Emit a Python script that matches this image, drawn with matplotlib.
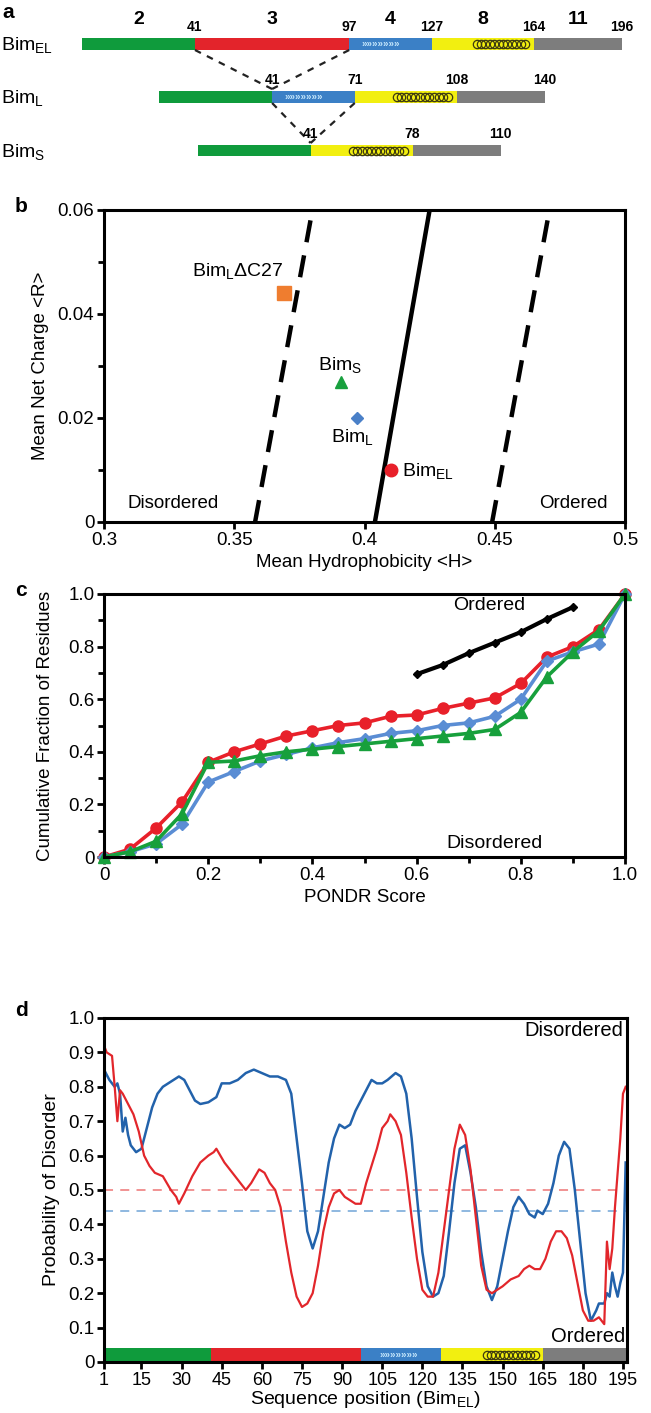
import numpy as np
import matplotlib.pyplot as plt
from matplotlib.ticker import MultipleLocator, FixedLocator
from matplotlib.patches import FancyBboxPatch

plt.rcParams['font.family'] = ['Liberation Sans', 'DejaVu Sans']
plt.rcParams['mathtext.fontset'] = 'custom'
plt.rcParams['mathtext.rm'] = 'Liberation Sans'
plt.rcParams['mathtext.it'] = 'Liberation Sans:italic'
plt.rcParams['mathtext.bf'] = 'Liberation Sans:bold'

GREEN = '#0f9b3c'
RED = '#e3242b'
BLUE = '#3b80c6'
YELLOW = '#f2ef10'
GREY = '#7d7d7d'

# ---------------- panel a: exon maps ----------------
iso_names = [r'Bim$_\mathregular{EL}$', r'Bim$_\mathregular{L}$', r'Bim$_\mathregular{S}$']
iso_bounds = [[0, 41, 97, 127, 164, 196],
              [0, 41, 71, 108, 140],
              [0, 41, 78, 110]]
iso_colors = [[GREEN, RED, BLUE, YELLOW, GREY],
              [GREEN, BLUE, YELLOW, GREY],
              [GREEN, YELLOW, GREY]]
iso_offsets = [0, 28, 42]
iso_strand = [(102, 115), (46, 59), None]
iso_helix = [(142, 162), (85, 106), (55, 76)]
exon_labels = ['2', '3', '4', '8', '11']

# ---------------- panel b: charge-hydropathy ----------------
b_names = [r'Bim$_\mathregular{L}$ΔC27', r'Bim$_\mathregular{S}$',
           r'Bim$_\mathregular{L}$', r'Bim$_\mathregular{EL}$']
b_h = [0.369, 0.391, 0.397, 0.410]
b_r = [0.044, 0.027, 0.020, 0.010]
b_markers = ['s', '^', 'D', 'o']
b_colors = ['#ef7d2f', '#18a03e', '#4a80c8', '#e8202a']
b_sizes = [10, 8, 6, 9]
bound_h0 = [0.358, 0.404, 0.449]
bound_h1 = [0.380, 0.425, 0.471]
bound_r = [0.0, 0.06]
bound_styles = ['--', '-', '--']

# ---------------- panel c: CDF ----------------
pondr = [0.0, 0.05, 0.1, 0.15, 0.2, 0.25, 0.3, 0.35, 0.4, 0.45, 0.5,
         0.55, 0.6, 0.65, 0.7, 0.75, 0.8, 0.85, 0.9, 0.95, 1.0]
cdf_el = [0, 0.03, 0.11, 0.21, 0.36, 0.40, 0.43, 0.46, 0.48, 0.50, 0.51,
          0.535, 0.54, 0.565, 0.585, 0.605, 0.66, 0.76, 0.80, 0.865, 1.0]
cdf_l = [0, 0.02, 0.05, 0.125, 0.285, 0.325, 0.365, 0.39, 0.415, 0.435, 0.45,
         0.47, 0.48, 0.50, 0.51, 0.535, 0.60, 0.745, 0.78, 0.81, 1.0]
cdf_s = [0, 0.02, 0.06, 0.165, 0.36, 0.365, 0.385, 0.40, 0.41, 0.42, 0.43,
         0.44, 0.45, 0.46, 0.47, 0.485, 0.55, 0.685, 0.78, 0.86, 1.0]
ord_x = [0.6, 0.65, 0.7, 0.75, 0.8, 0.85, 0.9]
ord_y = [0.695, 0.73, 0.775, 0.815, 0.855, 0.905, 0.95]

# ---------------- panel d: disorder profile ----------------
blue_pos = [1, 3, 5, 6, 7, 8, 9, 10, 11, 13, 15, 17, 19, 21, 23, 25, 27, 29, 31, 33,
            35, 37, 40, 43, 45, 48, 51, 54, 57, 60, 63, 66, 69, 71, 73, 75, 77, 79, 81,
            83, 85, 87, 89, 91, 93, 95, 97, 99, 101, 103, 105, 107, 110, 112, 114, 116,
            118, 120, 122, 124, 126, 128, 130, 132, 134, 136, 138, 140, 142, 144, 146,
            148, 150, 152, 154, 156, 158, 160, 162, 163, 165, 167, 169, 171, 173, 175,
            177, 179, 181, 183, 185, 186, 188, 189, 190, 191, 192, 193, 194, 195, 196]
blue_val = [0.85, 0.82, 0.80, 0.81, 0.78, 0.67, 0.71, 0.66, 0.63, 0.61, 0.62, 0.68,
            0.74, 0.78, 0.80, 0.81, 0.82, 0.83, 0.82, 0.79, 0.76, 0.75, 0.755, 0.77,
            0.81, 0.81, 0.82, 0.84, 0.85, 0.84, 0.83, 0.83, 0.82, 0.78, 0.65, 0.52,
            0.38, 0.33, 0.38, 0.48, 0.58, 0.65, 0.69, 0.68, 0.69, 0.73, 0.76, 0.79,
            0.82, 0.81, 0.81, 0.82, 0.84, 0.83, 0.78, 0.65, 0.48, 0.32, 0.22, 0.19,
            0.20, 0.25, 0.38, 0.52, 0.62, 0.63, 0.55, 0.45, 0.32, 0.22, 0.18, 0.22,
            0.30, 0.38, 0.45, 0.48, 0.46, 0.43, 0.42, 0.44, 0.43, 0.46, 0.52, 0.60,
            0.64, 0.62, 0.50, 0.35, 0.20, 0.12, 0.15, 0.17, 0.17, 0.20, 0.19, 0.26,
            0.22, 0.19, 0.23, 0.26, 0.58]
red_pos = [1, 2, 4, 5, 6, 7, 8, 10, 12, 14, 16, 18, 20, 23, 26, 28, 29, 31, 34, 37,
           40, 42, 43, 46, 49, 52, 54, 56, 59, 61, 63, 65, 67, 69, 71, 73, 75, 77, 79,
           81, 83, 85, 87, 89, 91, 93, 95, 97, 99, 101, 103, 105, 107, 108, 110, 112,
           114, 116, 118, 120, 122, 124, 126, 128, 130, 132, 134, 136, 138, 140, 142,
           144, 146, 148, 150, 153, 156, 158, 160, 162, 164, 166, 168, 170, 172, 174,
           176, 178, 180, 182, 184, 186, 187, 188, 189, 190, 191, 192, 194, 195, 196]
red_val = [0.92, 0.90, 0.89, 0.80, 0.70, 0.79, 0.78, 0.75, 0.72, 0.67, 0.60, 0.57,
           0.55, 0.54, 0.50, 0.48, 0.46, 0.49, 0.54, 0.58, 0.60, 0.61, 0.62, 0.58,
           0.55, 0.52, 0.50, 0.52, 0.56, 0.55, 0.52, 0.50, 0.45, 0.35, 0.26, 0.19,
           0.16, 0.17, 0.20, 0.28, 0.38, 0.45, 0.49, 0.50, 0.48, 0.47, 0.46, 0.46,
           0.52, 0.57, 0.62, 0.68, 0.70, 0.72, 0.70, 0.66, 0.55, 0.42, 0.30, 0.21,
           0.19, 0.19, 0.26, 0.38, 0.50, 0.62, 0.69, 0.66, 0.56, 0.42, 0.28, 0.21,
           0.20, 0.21, 0.22, 0.24, 0.25, 0.27, 0.28, 0.27, 0.27, 0.30, 0.35, 0.38,
           0.38, 0.36, 0.31, 0.23, 0.15, 0.12, 0.12, 0.13, 0.12, 0.11, 0.35, 0.27,
           0.33, 0.45, 0.65, 0.78, 0.80]
d_xticks = [1, 15, 30, 45, 60, 75, 90, 105, 120, 135, 150, 165, 180, 195]
d_yticks = [0, 0.1, 0.2, 0.3, 0.4, 0.5, 0.6, 0.7, 0.8, 0.9, 1.0]
d_ylabels = ['0', '0.1', '0.2', '0.3', '0.4', '0.5', '0.6', '0.7', '0.8', '0.9', '1.0']

W, H = 651, 1413
fig = plt.figure(figsize=(W / 100, H / 100), dpi=100)


def rect(left, top, right, bottom):
    return [left / W, 1 - bottom / H, (right - left) / W, (bottom - top) / H]


def style_axes(ax):
    for s in ax.spines.values():
        s.set_linewidth(2.2)
    ax.tick_params(which='both', direction='out', width=2, labelsize=13.5, pad=2)
    ax.tick_params(which='major', length=5)
    ax.tick_params(which='minor', length=4)
    ax.tick_params(top=False, right=False)


def draw_features(ax, strand, helix, yc, hgt, unit):
    # unit: data units per pixel along y, for the rounded helix box
    if strand is not None:
        ax.text((strand[0] + strand[1]) / 2, yc, '»' * 7, ha='center', va='center',
                color='#c4e6fb', fontsize=7, fontweight='bold')
    if helix is not None:
        xs = np.linspace(helix[0] + 1.2, helix[1] - 1.2, 12)
        ax.plot(xs, [yc] * len(xs), ls='none', marker='o', ms=hgt * 0.75,
                mfc='none', mec='#3d3a10', mew=0.9)
        ax.add_patch(FancyBboxPatch((helix[0], yc - hgt * 0.42 * unit), helix[1] - helix[0],
                                    hgt * 0.84 * unit, boxstyle='round,pad=0,rounding_size=%g' % (hgt * 0.4 * unit),
                                    fc='none', ec='#3d3a10', lw=1.0, mutation_aspect=1))


# ---- panel a
px = 2.755
axa = fig.add_axes([0, 1 - 165 / H, 1, 165 / H])
axa.set_xlim(-82 / px, (W - 82) / px)
axa.set_ylim(165, 0)
axa.axis('off')
rows = [(38, 50), (91, 103), (145, 156)]
for i in range(3):
    top, bot = rows[i]
    off = iso_offsets[i]
    b = iso_bounds[i]
    for j in range(len(b) - 1):
        axa.barh((top + bot) / 2, b[j + 1] - b[j], left=off + b[j], height=bot - top,
                 color=iso_colors[i][j], edgecolor='none')
    s = iso_strand[i]
    hx = iso_helix[i]
    yc = (top + bot) / 2
    if s is not None:
        axa.text((s[0] + s[1]) / 2 + off, yc, '»' * 7, ha='center', va='center',
                 color='#c4e6fb', fontsize=7, fontweight='bold')
    xs = np.linspace(hx[0] + off + 1.2, hx[1] + off - 1.2, 12)
    axa.plot(xs, [yc] * len(xs), ls='none', marker='o', ms=6,
             mfc='none', mec='#3d3a10', mew=0.9)
    for v in b[1:]:
        axa.text(off + v, top - 4, str(v), ha='center', va='bottom',
                 fontsize=10, fontweight='bold')
    axa.text(-29.5, yc + 1, iso_names[i], ha='left', va='center', fontsize=14)
for j, lab in enumerate(exon_labels):
    b = iso_bounds[0]
    axa.text((b[j] + b[j + 1]) / 2, 20, lab, ha='center', va='center',
             fontsize=14, fontweight='bold')
axa.text(-29, 12, 'a', ha='left', va='center', fontsize=15, fontweight='bold')
# splice connectors
dash = dict(color='#222222', ls=(0, (3, 3)), lw=1.6)
axa.plot([41, iso_offsets[1] + 41], [50, 89], **dash)
axa.plot([97, iso_offsets[1] + 41], [50, 89], **dash)
axa.plot([iso_offsets[1] + 41, iso_offsets[2] + 41], [103, 143], **dash)
axa.plot([iso_offsets[1] + 71, iso_offsets[2] + 41], [103, 143], **dash)

# ---- panel b
axb = fig.add_axes(rect(104, 210, 625, 522))
style_axes(axb)
for k in range(3):
    axb.plot([bound_h0[k], bound_h1[k]], bound_r, color='black', lw=3.2,
             ls=(0, (5, 3)) if bound_styles[k] == '--' else '-')
for k in range(4):
    axb.plot(b_h[k], b_r[k], marker=b_markers[k], color=b_colors[k], ms=b_sizes[k], ls='none')
axb.annotate(b_names[0], (b_h[0], b_r[0]), xytext=(-33, 16), textcoords='offset points',
             ha='center', va='center', fontsize=14)
axb.annotate(b_names[1], (b_h[1], b_r[1]), xytext=(-1, 12), textcoords='offset points',
             ha='center', va='center', fontsize=14)
axb.annotate(b_names[2], (b_h[2], b_r[2]), xytext=(-3, -14), textcoords='offset points',
             ha='center', va='center', fontsize=14)
axb.annotate(b_names[3], (b_h[3], b_r[3]), xytext=(8, -1), textcoords='offset points',
             ha='left', va='center', fontsize=14)
axb.text(0.309, 0.0035, 'Disordered', ha='left', va='center', fontsize=13.5)
axb.text(0.4935, 0.0035, 'Ordered', ha='right', va='center', fontsize=13.5)
axb.set_xlim(0.3, 0.5)
axb.set_ylim(0, 0.06)
axb.xaxis.set_major_locator(FixedLocator([0.3, 0.35, 0.4, 0.45, 0.5]))
axb.set_xticklabels(['0.3', '0.35', '0.4', '0.45', '0.5'])
axb.yaxis.set_major_locator(FixedLocator([0, 0.02, 0.04, 0.06]))
axb.set_yticklabels(['0', '0.02', '0.04', '0.06'])
axb.yaxis.set_minor_locator(MultipleLocator(0.01))
axb.set_xlabel('Mean Hydrophobicity <H>', fontsize=13.5, labelpad=4)
axb.set_ylabel('Mean Net Charge <R>', fontsize=13.5, labelpad=6)
fig.text(15 / W, 1 - 207 / H, 'b', fontsize=15, fontweight='bold', va='center')

# ---- panel c
axc = fig.add_axes(rect(104, 594, 625, 857))
style_axes(axc)
axc.plot(ord_x, ord_y, color='black', lw=3, marker='D', ms=4)
axc.plot(pondr, cdf_el, color='#e8202a', lw=2.6, marker='o', ms=8)
axc.plot(pondr, cdf_l, color='#5a8dd4', lw=2.6, marker='D', ms=6.5)
axc.plot(pondr, cdf_s, color='#17a03c', lw=2.6, marker='^', ms=8)
axc.text(0.74, 0.955, 'Ordered', ha='center', va='center', fontsize=14)
axc.text(0.75, 0.05, 'Disordered', ha='center', va='center', fontsize=14)
axc.set_xlim(0, 1)
axc.set_ylim(0, 1)
axc.xaxis.set_major_locator(FixedLocator([0, 0.2, 0.4, 0.6, 0.8, 1.0]))
axc.set_xticklabels(['0', '0.2', '0.4', '0.6', '0.8', '1.0'])
axc.yaxis.set_major_locator(FixedLocator([0, 0.2, 0.4, 0.6, 0.8, 1.0]))
axc.set_yticklabels(['0', '0.2', '0.4', '0.6', '0.8', '1.0'])
axc.xaxis.set_minor_locator(MultipleLocator(0.1))
axc.yaxis.set_minor_locator(MultipleLocator(0.1))
axc.set_xlabel('PONDR Score', fontsize=13.5, labelpad=4)
axc.set_ylabel('Cumulative Fraction of Residues', fontsize=13.5, labelpad=10)
for ln in axc.lines:
    ln.set_clip_on(False)
fig.text(15 / W, 1 - 590 / H, 'c', fontsize=15, fontweight='bold', va='center')

# ---- panel d
axd = fig.add_axes(rect(104, 1018, 627, 1362))
style_axes(axd)
axd.axhline(0.5, color='#f08a8a', lw=1.3, ls=(0, (5, 4)))
axd.axhline(0.44, color='#86b2dd', lw=1.3, ls=(0, (5, 4)))
axd.plot(blue_pos, blue_val, color='#2262ab', lw=1.8)
axd.plot(red_pos, red_val, color='#e2262b', lw=1.6)
dbounds = [1, 41, 97, 127, 165, 196]
for j in range(5):
    axd.barh(0.02, dbounds[j + 1] - dbounds[j], left=dbounds[j], height=0.04,
             color=iso_colors[0][j], edgecolor='none')
axd.text(111, 0.02, '»' * 7, ha='center', va='center', color='#c4e6fb',
         fontsize=7, fontweight='bold')
hxs = np.linspace(144, 162, 12)
axd.plot(hxs, [0.02] * len(hxs), ls='none', marker='o', ms=6, mfc='none',
         mec='#3d3a10', mew=0.9)
axd.text(195, 0.965, 'Disordered', ha='right', va='center', fontsize=14.5)
axd.text(196, 0.075, 'Ordered', ha='right', va='center', fontsize=14.5)
axd.set_xlim(1, 196.5)
axd.set_ylim(0, 1)
axd.xaxis.set_major_locator(FixedLocator(d_xticks))
axd.yaxis.set_major_locator(FixedLocator(d_yticks))
axd.set_yticklabels(d_ylabels)
axd.tick_params(axis='x', labelsize=13)
axd.set_xlabel(r'Sequence position (Bim$_\mathregular{EL}$)', fontsize=14, labelpad=0)
axd.set_ylabel('Probability of Disorder', fontsize=14, labelpad=6)
fig.text(15 / W, 1 - 1011 / H, 'd', fontsize=15, fontweight='bold', va='center')

fig.savefig('out.png', dpi=100)
